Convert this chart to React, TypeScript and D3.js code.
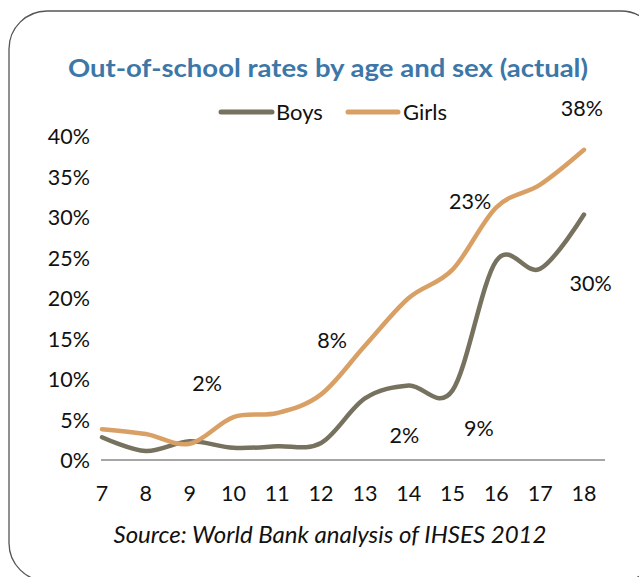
import React from "react";
import * as d3 from "d3";

const ages = [7, 8, 9, 10, 11, 12, 13, 14, 15, 16, 17, 18];
const boys = [2.8, 1.1, 2.3, 1.5, 1.7, 2.1, 7.6, 9.2, 8.6, 24.6, 23.6, 30.3];
const girls = [3.8, 3.2, 2.0, 5.3, 5.8, 8.1, 14.1, 20.0, 23.5, 31.2, 34.0, 38.3];
const yTicks = [0, 5, 10, 15, 20, 25, 30, 35, 40];
const annotations = [
  { text: "2%", age: 9.4, value: 9.5 },
  { text: "8%", age: 12.25, value: 14.8 },
  { text: "23%", age: 15.4, value: 32.0 },
  { text: "38%", age: 17.95, value: 43.5 },
  { text: "2%", age: 13.9, value: 3.1 },
  { text: "9%", age: 15.6, value: 4.0 },
  { text: "30%", age: 18.15, value: 21.8 },
];
const series = [
  { name: "Boys", values: boys, color: "#77725f" },
  { name: "Girls", values: girls, color: "#d9a066" },
];

export default function App() {
  const W = 639, H = 577;
  const x = d3.scaleLinear().domain([7, 18]).range([102, 584]);
  const y = d3.scaleLinear().domain([0, 40]).range([460, 136]);
  const line = d3
    .line<number>()
    .x((_, i) => x(ages[i]))
    .y((d) => y(d))
    .curve(d3.curveCatmullRom.alpha(0));
  const font = "Lato, 'Open Sans', sans-serif";
  return (
    <svg
      width={W}
      height={H}
      style={{ position: "absolute", left: 0, top: 0, background: "#fff" }}
      fontFamily={font}
    >
      <rect x={9} y={11} width={650} height={570} rx={38} ry={38} fill="#fff" stroke="#555" strokeWidth={1.3} />
      <text x={328} y={77} textAnchor="middle" fontSize={25} fontWeight={700} fill="#3d77a8" textLength={520} lengthAdjust="spacingAndGlyphs">
        Out-of-school rates by age and sex (actual)
      </text>
      {/* legend */}
      <line x1={221} x2={272} y1={112} y2={112} stroke={series[0].color} strokeWidth={5} strokeLinecap="round" />
      <text x={276} y={120} fontSize={22} fill="#111">Boys</text>
      <line x1={348} x2={398} y1={112} y2={112} stroke={series[1].color} strokeWidth={5} strokeLinecap="round" />
      <text x={403} y={120} fontSize={22} fill="#111">Girls</text>
      {/* y axis labels */}
      {yTicks.map((t) => (
        <text key={t} x={90} y={y(t) + 8} textAnchor="end" fontSize={21.5} fill="#111">
          {t + "%"}
        </text>
      ))}
      {/* x axis */}
      <line x1={101} x2={605} y1={y(0)} y2={y(0)} stroke="#888" strokeWidth={1.5} />
      {ages.map((a) => (
        <text key={a} x={x(a)} y={501} textAnchor="middle" fontSize={21.5} fill="#111">
          {a}
        </text>
      ))}
      {series.map((s) => (
        <path key={s.name} d={line(s.values) || ""} fill="none" stroke={s.color} strokeWidth={4.5} strokeLinecap="round" />
      ))}
      {annotations.map((a, i) => (
        <text key={i} x={x(a.age)} y={y(a.value) + 8} textAnchor="middle" fontSize={21.5} fill="#111">
          {a.text}
        </text>
      ))}
      <text x={330} y={543} textAnchor="middle" fontSize={23} fontStyle="italic" fill="#111" textLength={433} lengthAdjust="spacingAndGlyphs">
        Source: World Bank analysis of IHSES 2012
      </text>
    </svg>
  );
}
